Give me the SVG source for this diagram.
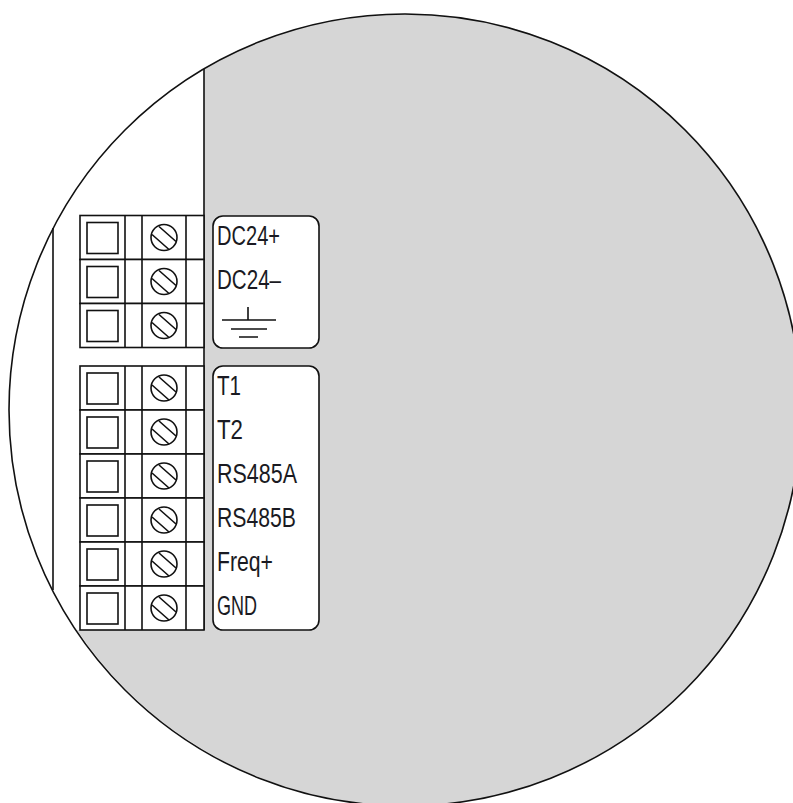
<svg xmlns="http://www.w3.org/2000/svg" width="793" height="803" viewBox="0 0 793 803">
<style>
.l{fill:none;stroke:#111;stroke-width:1.6}
.b{fill:#fff;stroke:#111;stroke-width:1.6}
.t{font-family:"Liberation Sans Narrow","Liberation Sans",sans-serif;font-size:27px;fill:#1a1a22}
</style>
<defs>
<g id="screw"><circle r="13" class="b"/><path class="l" d="M-5-11 12 4M-12-3 5 12"/></g>
<g id="row"><rect x="80" width="124" height="44" class="b"/><path class="l" d="M125 0V44M142 0V44M186 0V44"/><rect x="87" y="7" width="31" height="31" class="l"/><use href="#screw" x="164" y="22"/></g>
</defs>
<rect width="793" height="803" fill="#fff"/>
<g id="body">
<path d="M204 69A396 396 0 1 1 77 630H204Z" fill="#d6d6d6"/>
<circle cx="405" cy="410" r="396" class="l"/>
<path class="l" d="M204 69V630M53 228V590"/>
</g>
<g id="block-power">
<use href="#row" y="215.500"/><use href="#row" y="259.500"/><use href="#row" y="303.500"/>
</g>
<g id="block-signal">
<use href="#row" y="366"/><use href="#row" y="410"/><use href="#row" y="454"/><use href="#row" y="498"/><use href="#row" y="542"/><use href="#row" y="586"/>
</g>
<g id="label-power">
<rect x="213" y="216" width="106" height="132" rx="10" class="b"/>
<text class="t" x="217" y="245" textLength="63" lengthAdjust="spacingAndGlyphs">DC24+</text>
<text class="t" x="217" y="289" textLength="64" lengthAdjust="spacingAndGlyphs">DC24–</text>
<path class="l" d="M248 307V320M222 320H276M231 329H267M239 337H258"/>
</g>
<g id="label-signal">
<rect x="213" y="366" width="106" height="264" rx="10" class="b"/>
<text class="t" x="217" y="395" textLength="24" lengthAdjust="spacingAndGlyphs">T1</text>
<text class="t" x="217" y="439" textLength="26" lengthAdjust="spacingAndGlyphs">T2</text>
<text class="t" x="217" y="483" textLength="80" lengthAdjust="spacingAndGlyphs">RS485A</text>
<text class="t" x="217" y="527" textLength="79" lengthAdjust="spacingAndGlyphs">RS485B</text>
<text class="t" x="217" y="571" textLength="56" lengthAdjust="spacingAndGlyphs">Freq+</text>
<text class="t" x="217" y="615" textLength="40" lengthAdjust="spacingAndGlyphs">GND</text>
</g>
</svg>
